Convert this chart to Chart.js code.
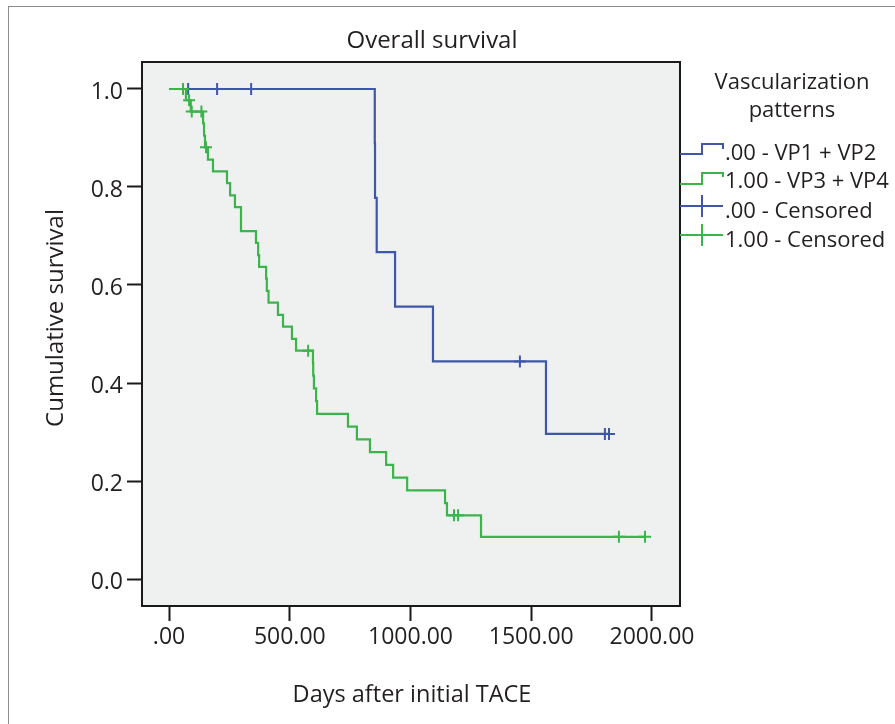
<!DOCTYPE html>
<html>
<head>
<meta charset="utf-8">
<script src="https://cdn.jsdelivr.net/npm/chart.js@4.4.1/dist/chart.umd.min.js"></script>
<style>
html,body{margin:0;padding:0;background:#fff;}
#wrap{position:relative;width:895px;height:724px;}
canvas{display:block;}
</style>
</head>
<body>
<div id="wrap"><canvas id="c" width="895" height="724"></canvas></div>
<script>
// ---- Data ----
const xTickValues = [0, 500, 1000, 1500, 2000];
const xTickLabels = ['.00', '500.00', '1000.00', '1500.00', '2000.00'];
const yTickValues = [0, 0.2, 0.4, 0.6, 0.8, 1.0];
const yTickLabels = ['0.0', '0.2', '0.4', '0.6', '0.8', '1.0'];

// Group .00 - VP1 + VP2 (blue) step curve
const vp12Days = [0, 852, 853, 860, 936, 1093, 1561, 1822];
const vp12Surv = [1, 0.889, 0.778, 0.667, 0.556, 0.444, 0.296, 0.296];
// Group .00 censored marks
const vp12CensDays = [79, 199, 340, 1453, 1805, 1822];
const vp12CensSurv = [1, 1, 1, 0.444, 0.296, 0.296];

// Group 1.00 - VP3 + VP4 (green) step curve
const vp34Days = [0, 70, 90, 141, 145, 149, 161, 182, 240, 253, 273, 298, 360, 369, 373, 402, 405, 412, 451, 472, 509, 526, 596, 597, 600, 609, 613, 741, 778, 832, 899, 928, 986, 1143, 1151, 1292, 1971];
const vp34Surv = [1, 0.977, 0.954, 0.930, 0.905, 0.881, 0.856, 0.832, 0.808, 0.783, 0.759, 0.710, 0.686, 0.661, 0.637, 0.613, 0.588, 0.564, 0.539, 0.515, 0.490, 0.466, 0.441, 0.415, 0.389, 0.363, 0.337, 0.311, 0.285, 0.259, 0.233, 0.207, 0.181, 0.155, 0.130, 0.086, 0.086];
// Group 1.00 censored marks
const vp34CensDays = [58, 83, 94, 134, 153, 576, 1180, 1197, 1863, 1971];
const vp34CensSurv = [1, 0.977, 0.954, 0.954, 0.881, 0.466, 0.130, 0.130, 0.086, 0.086];

const titleText = 'Overall survival';
const xAxisTitle = 'Days after initial TACE';
const yAxisTitle = 'Cumulative survival';
const legendTitle = ['Vascularization', 'patterns'];
const legendLabels = ['.00 - VP1 + VP2', '1.00 - VP3 + VP4', '.00 - Censored', '1.00 - Censored'];

// ---- Styling ----
const BLUE = '#3e57a8';
const GREEN = '#3cb44b';
const TEXT = '#231f20';
const FONT = '"Open Sans", "DejaVu Sans", sans-serif';
const FS_TICK = 23;
const FS_TITLE = 24;
const FS_LEG = 22;

const toPts = (xs, ys) => xs.map((x, i) => ({x: x, y: ys[i]}));

const decor = {
  id: 'decor',
  beforeDraw(chart) {
    const ctx = chart.ctx, a = chart.chartArea;
    ctx.save();
    ctx.fillStyle = '#ffffff';
    ctx.fillRect(0, 0, chart.width, chart.height);
    ctx.strokeStyle = '#8c8c8c';
    ctx.lineWidth = 1;
    ctx.strokeRect(8.5, 6.5, 920, 740);
    ctx.fillStyle = '#eff1f0';
    ctx.fillRect(a.left, a.top, a.right - a.left, a.bottom - a.top);
    ctx.restore();
  },
  afterDraw(chart) {
    const ctx = chart.ctx, a = chart.chartArea;
    ctx.save();
    ctx.strokeStyle = '#1a1a1a';
    ctx.lineWidth = 2;
    ctx.strokeRect(a.left, a.top, a.right - a.left, a.bottom - a.top);

    ctx.fillStyle = TEXT;
    ctx.textBaseline = 'alphabetic';
    ctx.textAlign = 'center';
    ctx.font = FS_TITLE + 'px ' + FONT;
    ctx.fillText(titleText, 432, 48);
    ctx.font = '23.5px ' + FONT;
    ctx.fillText(xAxisTitle, 412, 702);
    ctx.save();
    ctx.translate(63, 318);
    ctx.rotate(-Math.PI / 2);
    ctx.font = '24px ' + FONT;
    ctx.fillText(yAxisTitle, 0, 0);
    ctx.restore();

    // legend
    ctx.font = FS_LEG + 'px ' + FONT;
    ctx.fillText(legendTitle[0], 792, 89);
    ctx.fillText(legendTitle[1], 792, 117);
    ctx.textAlign = 'left';
    const baselines = [160, 188, 218, 247];
    baselines.forEach((b, i) => ctx.fillText(legendLabels[i], 725, b));

    ctx.lineWidth = 2;
    // step symbols
    ctx.strokeStyle = BLUE;
    ctx.beginPath();
    ctx.moveTo(680, 154); ctx.lineTo(702, 154); ctx.lineTo(702, 144); ctx.lineTo(723, 144); ctx.lineTo(723, 149);
    ctx.stroke();
    ctx.strokeStyle = GREEN;
    ctx.beginPath();
    ctx.moveTo(680, 184); ctx.lineTo(702, 184); ctx.lineTo(702, 173); ctx.lineTo(723, 173); ctx.lineTo(723, 177);
    ctx.stroke();
    // censored symbols
    ctx.strokeStyle = BLUE;
    ctx.beginPath();
    ctx.moveTo(680, 206); ctx.lineTo(723, 206);
    ctx.moveTo(702, 195); ctx.lineTo(702, 217);
    ctx.stroke();
    ctx.strokeStyle = GREEN;
    ctx.beginPath();
    ctx.moveTo(680, 235); ctx.lineTo(723, 235);
    ctx.moveTo(702, 224); ctx.lineTo(702, 246);
    ctx.stroke();
    ctx.restore();
  }
};

const chart = new Chart(document.getElementById('c'), {
  type: 'scatter',
  data: {
    datasets: [
      {
        label: legendLabels[1],
        data: toPts(vp34Days, vp34Surv),
        showLine: true, stepped: 'before',
        borderColor: GREEN, borderWidth: 2.2, pointRadius: 0, fill: false
      },
      {
        label: legendLabels[3],
        data: toPts(vp34CensDays, vp34CensSurv),
        showLine: false, pointStyle: 'cross', pointRadius: 6,
        borderColor: GREEN, backgroundColor: GREEN, borderWidth: 2
      },
      {
        label: legendLabels[0],
        data: toPts(vp12Days, vp12Surv),
        showLine: true, stepped: 'before',
        borderColor: BLUE, borderWidth: 2.2, pointRadius: 0, fill: false
      },
      {
        label: legendLabels[2],
        data: toPts(vp12CensDays, vp12CensSurv),
        showLine: false, pointStyle: 'cross', pointRadius: 6,
        borderColor: BLUE, backgroundColor: BLUE, borderWidth: 2
      }
    ]
  },
  options: {
    responsive: false,
    animation: false,
    devicePixelRatio: 1,
    events: [],
    layout: { padding: { top: 62, right: 215, left: 0, bottom: 0 } },
    plugins: { legend: { display: false }, tooltip: { enabled: false }, title: { display: false } },
    scales: {
      x: {
        type: 'linear',
        min: -112, max: 2116,
        afterFit: s => { s.height = 118; },
        afterBuildTicks: s => { s.ticks = xTickValues.map(v => ({value: v})); },
        border: { display: false },
        grid: { drawOnChartArea: false, drawTicks: true, tickLength: 15, tickWidth: 2, tickColor: '#1a1a1a' },
        ticks: {
          color: TEXT, font: { family: FONT, size: FS_TICK }, padding: 3, maxRotation: 0, autoSkip: false,
          callback: v => xTickLabels[xTickValues.indexOf(v)]
        }
      },
      y: {
        type: 'linear',
        min: -0.0551, max: 1.0551,
        afterFit: s => { s.width = 142; },
        afterBuildTicks: s => { s.ticks = yTickValues.map(v => ({value: v})); },
        border: { display: false },
        grid: { drawOnChartArea: false, drawTicks: true, tickLength: 15, tickWidth: 2, tickColor: '#1a1a1a' },
        ticks: {
          color: TEXT, font: { family: FONT, size: FS_TICK }, padding: 4, labelOffset: 3, autoSkip: false,
          callback: v => yTickLabels[yTickValues.indexOf(v)]
        }
      }
    }
  },
  plugins: [decor]
});
</script>
</body>
</html>
